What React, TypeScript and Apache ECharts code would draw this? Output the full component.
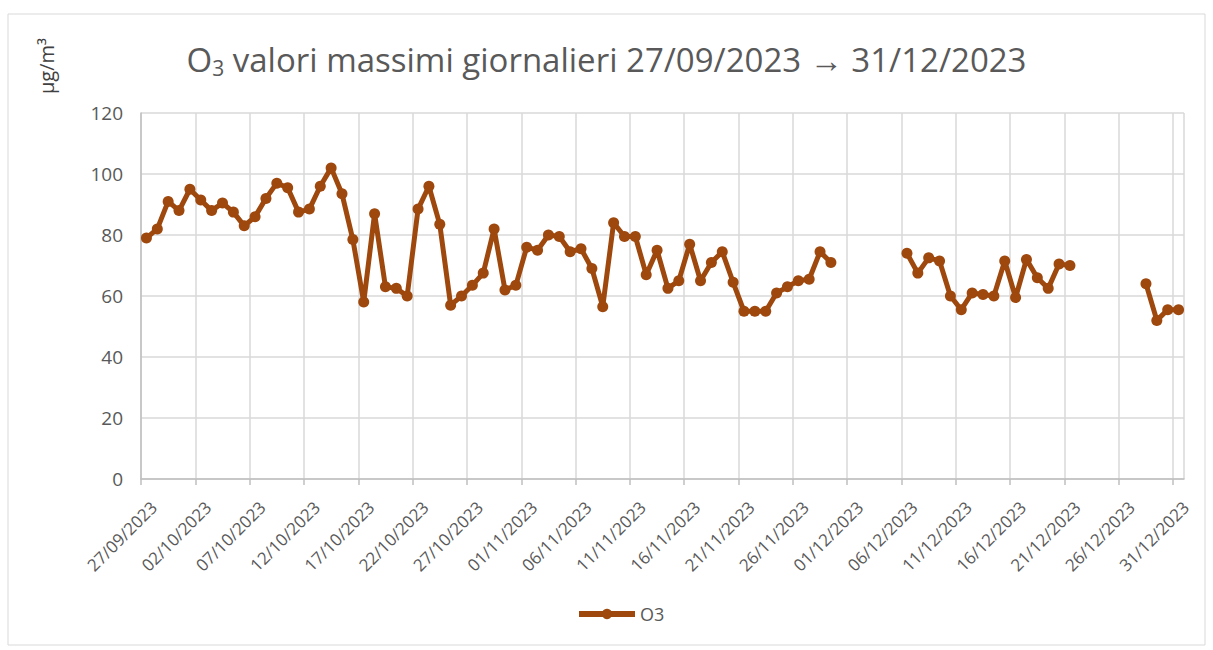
import React, { useEffect, useRef } from "react";
import * as echarts from "echarts";

const START_DATE = [2023, 9, 27]; // 27/09/2023, one point per day
const DAY_COUNT = 96; // 27/09/2023 -> 31/12/2023
const TICK_STEP = 5;
const Y_TICKS = [0, 20, 40, 60, 80, 100, 120];
const SERIES_NAME = "O3";
const O3_VALUES: (number | null)[] = [
  79, 82, 91, 88, 95, 91.5, 88, 90.5, 87.5, 83,
  86, 92, 97, 95.5, 87.5, 88.5, 96, 102, 93.5, 78.5,
  58, 87, 63, 62.5, 60, 88.5, 96, 83.5, 57, 60,
  63.5, 67.5, 82, 62, 63.5, 76, 75, 80, 79.5, 74.5,
  75.5, 69, 56.5, 84, 79.5, 79.5, 67, 75, 62.5, 65,
  77, 65, 71, 74.5, 64.5, 55, 55, 55, 61, 63,
  65, 65.5, 74.5, 71, null, null, null, null, null, null,
  74, 67.5, 72.5, 71.5, 60, 55.5, 61, 60.5, 60, 71.5,
  59.5, 72, 66, 62.5, 70.5, 70, null, null, null, null,
  null, null, 64, 52, 55.5, 55.5,
];

function dayLabel(offset: number): string {
  const d = new Date(START_DATE[0], START_DATE[1] - 1, START_DATE[2] + offset);
  const dd = String(d.getDate()).padStart(2, "0");
  const mm = String(d.getMonth() + 1).padStart(2, "0");
  return `${dd}/${mm}/${d.getFullYear()}`;
}

export default function App() {
  const ref = useRef<HTMLDivElement>(null);
  useEffect(() => {
    if (!ref.current) return;
    const chart = echarts.init(ref.current, null, { renderer: "svg" });
    const color = "#9E480E";
    const font = "'Open Sans', 'Noto Sans', sans-serif";
    const data = O3_VALUES.map((v, i) => [i + 0.5, v === null ? "-" : v]);
    chart.setOption({
      animation: false,
      backgroundColor: "#ffffff",
      textStyle: { fontFamily: font },
      title: {
        text: "O{sub|3} valori massimi giornalieri 27/09/2023 → 31/12/2023",
        left: "center",
        top: 35,
        textStyle: {
          fontFamily: font,
          fontSize: 33,
          fontWeight: "normal",
          color: "#595959",
          rich: {
            sub: {
              fontFamily: font,
              fontSize: 21,
              color: "#595959",
              verticalAlign: "bottom",
              padding: [17, 0, 0, 0],
            },
          },
        },
      },
      graphic: [
        {
          type: "rect",
          shape: { x: 8, y: 14, width: 1197, height: 631 },
          style: { fill: "none", stroke: "#d9d9d9", lineWidth: 1 },
          silent: true,
        },
        {
          type: "text",
          x: 46,
          y: 66,
          rotation: Math.PI / 2,
          style: {
            text: "µg/m³",
            fontFamily: font,
            fontSize: 20,
            fill: "#404040",
            align: "center",
            verticalAlign: "middle",
          },
        },
      ],
      legend: {
        bottom: 22,
        left: 571,
        itemWidth: 56,
        itemHeight: 13,
        itemGap: 4,
        lineStyle: { width: 6 },
        textStyle: { fontFamily: font, fontSize: 18, color: "#595959" },
        data: [SERIES_NAME],
      },
      grid: { left: 141, right: 29, top: 113, bottom: 171, containLabel: false },
      xAxis: {
        type: "value",
        min: 0,
        max: DAY_COUNT,
        interval: TICK_STEP,
        axisLine: { show: true, lineStyle: { color: "#bfbfbf", width: 1.5 } },
        axisTick: { show: true, length: 6, lineStyle: { color: "#bfbfbf", width: 1.5 } },
        splitLine: { show: true, lineStyle: { color: "#d9d9d9", width: 1.5 } },
        axisLabel: {
          rotate: 45,
          margin: 38,
          padding: [0, -18, 0, 0],
          fontFamily: font,
          fontSize: 17,
          color: "#595959",
          showMaxLabel: false,
          formatter: (v: number) => (v < DAY_COUNT ? dayLabel(v) : ""),
        },
      },
      yAxis: {
        type: "value",
        min: Y_TICKS[0],
        max: Y_TICKS[Y_TICKS.length - 1],
        interval: Y_TICKS[1] - Y_TICKS[0],
        axisLine: { show: true, lineStyle: { color: "#bfbfbf", width: 1.5 } },
        axisTick: { show: false },
        splitLine: { show: true, lineStyle: { color: "#d9d9d9", width: 1.5 } },
        axisLabel: { fontFamily: font, fontSize: 19, color: "#595959", margin: 18 },
      },
      series: [
        {
          name: SERIES_NAME,
          type: "line",
          data,
          connectNulls: false,
          symbol: "circle",
          symbolSize: 11,
          showAllSymbol: true,
          lineStyle: { color, width: 5 },
          itemStyle: { color },
        },
      ],
    });
    return () => chart.dispose();
  }, []);
  return (
    <div
      ref={ref}
      style={{ position: "fixed", left: 0, top: 0, width: 1213, height: 650 }}
    />
  );
}
